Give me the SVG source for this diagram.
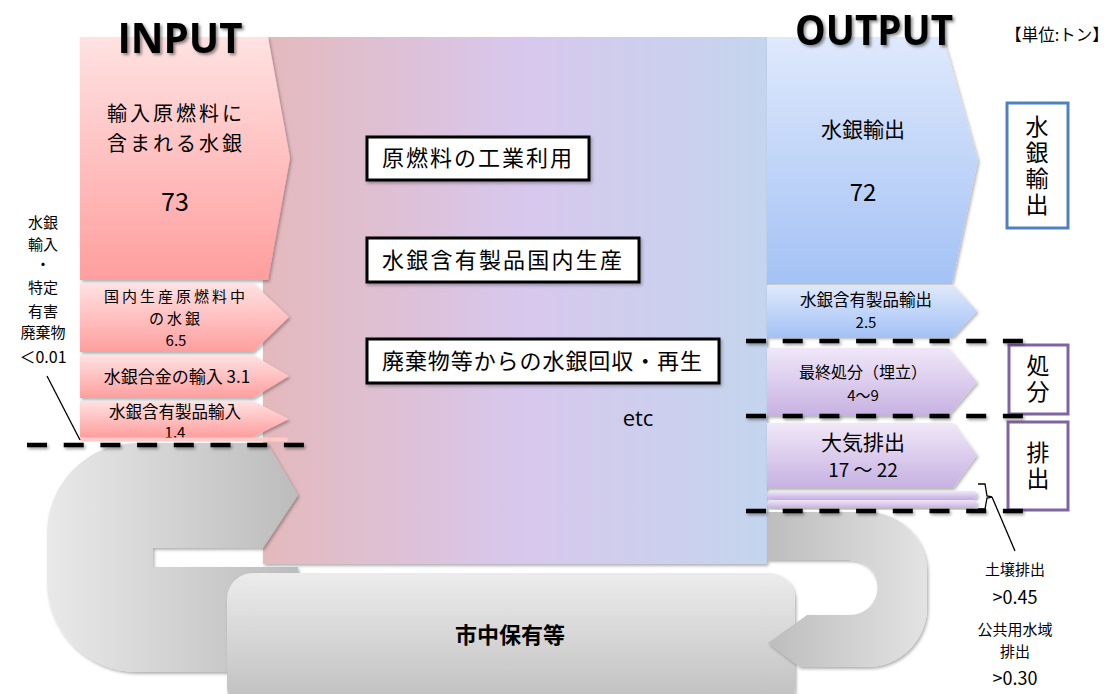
<svg xmlns="http://www.w3.org/2000/svg" width="1112" height="694" viewBox="0 0 1112 694">
<defs>
<linearGradient id="gCenter" x1="0" y1="0" x2="1" y2="0">
<stop offset="0" stop-color="#e4b9bc"/>
<stop offset="0.5" stop-color="#d8c7ec"/>
<stop offset="1" stop-color="#c4d5ee"/>
</linearGradient>
<linearGradient id="gPink" x1="0" y1="0" x2="0" y2="1">
<stop offset="0" stop-color="#ffe2e2"/>
<stop offset="1" stop-color="#ff9e9e"/>
</linearGradient>
<linearGradient id="gBlue" x1="0" y1="0" x2="0" y2="1">
<stop offset="0" stop-color="#dfe9fc"/>
<stop offset="1" stop-color="#a4c2f5"/>
</linearGradient>
<linearGradient id="gPurple" x1="0" y1="0" x2="0" y2="1">
<stop offset="0" stop-color="#f0e8f8"/>
<stop offset="1" stop-color="#c7b1e2"/>
</linearGradient>
<linearGradient id="gGrayL" x1="0" y1="0" x2="1" y2="0">
<stop offset="0" stop-color="#e9e9e9"/>
<stop offset="1" stop-color="#bcbcbc"/>
</linearGradient>
<linearGradient id="gGrayR" x1="0" y1="0" x2="1" y2="0">
<stop offset="0" stop-color="#bdbdbd"/>
<stop offset="1" stop-color="#e3e3e3"/>
</linearGradient>
<linearGradient id="gGrayV" x1="0" y1="0" x2="0" y2="1">
<stop offset="0" stop-color="#ececec"/>
<stop offset="1" stop-color="#bcbcbc"/>
</linearGradient>
<filter id="sh" x="-10%" y="-10%" width="120%" height="130%">
<feDropShadow dx="1.5" dy="2" stdDeviation="1.8" flood-color="#000" flood-opacity="0.3"/>
</filter>
<filter id="lsh" filterUnits="userSpaceOnUse" x="0" y="0" width="1112" height="694">
<feDropShadow dx="1.5" dy="2" stdDeviation="1.5" flood-color="#000" flood-opacity="0.35"/>
</filter>
<filter id="tsh" x="-10%" y="-10%" width="130%" height="140%">
<feDropShadow dx="2" dy="2" stdDeviation="1.5" flood-color="#000" flood-opacity="0.45"/>
</filter>
<style>
.jp{font-family:"Noto Sans CJK JP","Noto Sans",sans-serif;fill:#000;text-anchor:middle}
.hd{font-family:"Open Sans","Liberation Sans",sans-serif;font-weight:bold;font-size:42px;fill:#000;text-anchor:middle}
.box{fill:#fff;stroke:#000;stroke-width:3}
.dash{stroke:#000;stroke-width:4.5;stroke-dasharray:20 16.7;fill:none}
.vb{fill:#fff;stroke-width:3}
.vt{font-family:"Noto Sans CJK JP","Noto Sans",sans-serif;fill:#000;text-anchor:middle;writing-mode:vertical-rl;font-size:23px;letter-spacing:3px}
</style>
</defs>

<rect width="1112" height="694" fill="#fff"/>

<g id="process">
<rect x="263" y="37" width="504" height="527" fill="url(#gCenter)" filter="url(#sh)"/>
</g>

<g id="input-main">
<polygon points="80,37 268,37 290,158 268,280 80,280" fill="url(#gPink)" filter="url(#sh)"/>
<text class="jp" x="176" y="121" font-size="20" letter-spacing="3">輸入原燃料に<tspan x="176" dy="29.5">含まれる水銀</tspan></text>
<text class="jp" x="175" y="211" font-size="25">73</text>
</g>
<g id="input-domestic">
<polygon points="80,283 253,283 289,317 253,352 80,352" fill="url(#gPink)" filter="url(#sh)"/>
<text class="jp" x="176" y="302" font-size="15" letter-spacing="3">国内生産原燃料中<tspan x="176" dy="21.8">の水銀</tspan><tspan x="176" dy="21.8" letter-spacing="0">6.5</tspan></text>
</g>
<g id="input-alloy">
<polygon points="80,355 253,355 289,376 253,398 80,398" fill="url(#gPink)" filter="url(#sh)"/>
<text class="jp" x="177" y="383" font-size="17">水銀合金の輸入 3.1</text>
</g>
<g id="input-products">
<polygon points="80,401 253,401 289,419 253,437 80,437" fill="url(#gPink)" filter="url(#sh)"/>
<text class="jp" x="175" y="418" font-size="16.5">水銀含有製品輸入<tspan x="175" dy="20" font-size="15">1.4</tspan></text>
<rect x="80" y="437.5" width="208" height="4" rx="2" fill="#ffcaca"/>
</g>

<g id="recycle-left">
<path d="M137,443 L267,443 L298,495 L263,548 L153,548 L153,567 L298,567 L298,672 L137,672 A90,90 0 0 1 47,582 L47,533 A90,90 0 0 1 137,443 Z" fill="url(#gGrayL)" filter="url(#sh)"/>
</g>

<g id="stock">
<rect x="227" y="573" width="568" height="140" rx="26" fill="url(#gGrayV)" filter="url(#sh)"/>
<text class="jp" x="510" y="643" font-size="22" font-weight="bold">市中保有等</text>
</g>

<g id="recycle-right">
<path d="M767,512 L867,512 A60,60 0 0 1 927,572 L927,607 A60,60 0 0 1 867,667 L800,667 L768,643 L807,615 L850,615 A27.5,27.5 0 0 0 850,560 L767,560 Z" fill="url(#gGrayR)" filter="url(#sh)"/>
</g>

<g id="output-export">
<polygon points="767,37 943,37 978,160 952,283 767,283" fill="url(#gBlue)" filter="url(#sh)"/>
<text class="jp" x="863" y="137" font-size="21">水銀輸出</text>
<text class="jp" x="863" y="201" font-size="24">72</text>
</g>
<g id="output-products">
<polygon points="767,285 953,285 977,311 953,337 767,337" fill="url(#gBlue)" filter="url(#sh)"/>
<text class="jp" x="866" y="306" font-size="16.5">水銀含有製品輸出<tspan x="866" dy="22" font-size="15">2.5</tspan></text>
</g>
<g id="output-landfill">
<polygon points="767,348 948,348 977,382 948,416 767,416" fill="url(#gPurple)" filter="url(#sh)"/>
<text class="jp" x="863" y="378" font-size="16">最終処分（埋立）<tspan x="863" dy="23" font-size="15">4〜9</tspan></text>
</g>
<g id="output-air">
<polygon points="767,423 953,423 977,455 953,488 767,488" fill="url(#gPurple)" filter="url(#sh)"/>
<text class="jp" x="863" y="450" font-size="21">大気排出<tspan x="863" dy="27" font-size="19">17 〜 22</tspan></text>
</g>
<g id="output-soil-water">
<rect x="767" y="491" width="210" height="8" rx="4" fill="url(#gPurple)" filter="url(#sh)"/>
<rect x="767" y="500" width="210" height="8" rx="4" fill="url(#gPurple)" filter="url(#sh)"/>
</g>

<g id="proc-industrial">
<rect class="box" x="367" y="137" width="222" height="43" filter="url(#sh)"/>
<text class="jp" x="477" y="166" font-size="22" textLength="190" lengthAdjust="spacing">原燃料の工業利用</text>
</g>
<g id="proc-production">
<rect class="box" x="367" y="238" width="272" height="44" filter="url(#sh)"/>
<text class="jp" x="502" y="268" font-size="22" textLength="240" lengthAdjust="spacing">水銀含有製品国内生産</text>
</g>
<g id="proc-recovery">
<rect class="box" x="367" y="339" width="352" height="44" filter="url(#sh)"/>
<text class="jp" x="542" y="369" font-size="22" textLength="320" lengthAdjust="spacing">廃棄物等からの水銀回収・再生</text>
</g>
<text class="jp" x="638" y="426" font-size="22" style="font-family:'Open Sans','Liberation Sans',sans-serif">etc</text>

<g id="box-export">
<rect class="vb" x="1007" y="103" width="61" height="125" stroke="#4f81bd"/>
<text class="vt" x="1037" y="167">水銀輸出</text>
</g>
<g id="box-disposal">
<rect class="vb" x="1009" y="345" width="59" height="69" stroke="#8064a2"/>
<text class="vt" x="1038" y="380">処分</text>
</g>
<g id="box-emission">
<rect class="vb" x="1008" y="422" width="60" height="88" stroke="#8064a2"/>
<text class="vt" x="1038" y="467">排出</text>
</g>

<g id="connectors">
<g filter="url(#lsh)">
<line class="dash" x1="27" y1="445" x2="304" y2="445"/>
<line class="dash" x1="746" y1="341" x2="1023" y2="341"/>
<line class="dash" x1="746" y1="416" x2="1023" y2="416"/>
<line class="dash" x1="746" y1="511" x2="1023" y2="511"/>
</g>
<line x1="47" y1="376" x2="80" y2="440" stroke="#000" stroke-width="1.3"/>
<path d="M978,484 L985,484 L987,496 L992,497 L987,498 L985,509 L978,509" fill="none" stroke="#000" stroke-width="1.3"/>
<line x1="992" y1="497" x2="1015" y2="551" stroke="#000" stroke-width="1.3"/>
</g>

<g id="headings">
<text class="hd" x="180" y="53" textLength="125" lengthAdjust="spacingAndGlyphs" filter="url(#tsh)">INPUT</text>
<text class="hd" x="874" y="45" textLength="158" lengthAdjust="spacingAndGlyphs" filter="url(#tsh)">OUTPUT</text>
<text class="jp" x="1057" y="41" font-size="16.5">【単位:トン】</text>
</g>

<g id="label-import-waste">
<text class="jp" x="43" y="228" font-size="15">水銀<tspan x="43" dy="22">輸入</tspan><tspan x="43" dy="20">・</tspan><tspan x="43" dy="23">特定</tspan><tspan x="43" dy="24">有害</tspan><tspan x="43" dy="21">廃棄物</tspan><tspan x="43" dy="25" font-size="16">＜0.01</tspan></text>
</g>

<g id="label-soil-water">
<text class="jp" x="1015" y="575" font-size="15">土壌排出<tspan x="1015" dy="29" font-size="18">&gt;0.45</tspan><tspan x="1015" dy="31">公共用水域</tspan><tspan x="1015" dy="22">排出</tspan><tspan x="1015" dy="28" font-size="18">&gt;0.30</tspan></text>
</g>
</svg>
